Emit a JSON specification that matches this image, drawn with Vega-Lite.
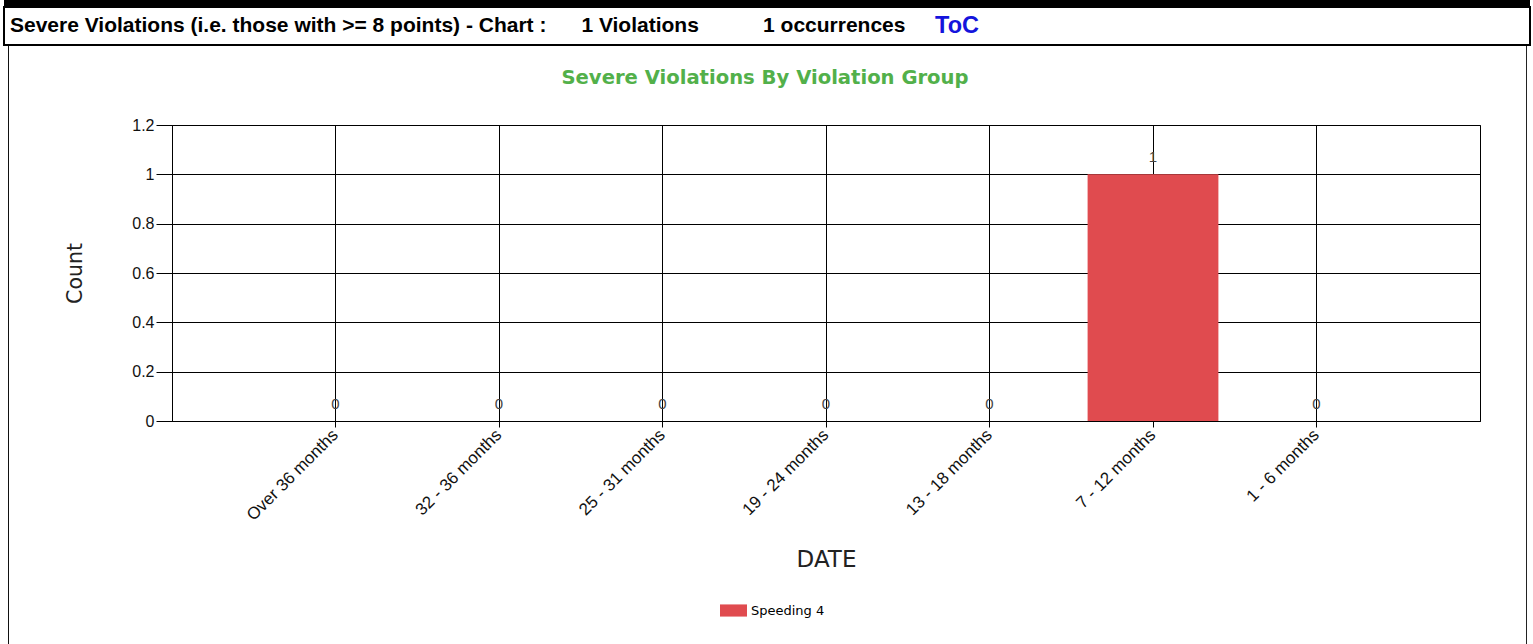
{
  "$schema": "https://vega.github.io/schema/vega-lite/v6.json",
  "background": "white",
  "padding": {"left": 3, "top": 0, "right": 0, "bottom": 0},
  "spacing": 0,
  "resolve": {"legend": {"color": "independent"}},
  "config": {"legend": {"layout": {"bottom": {"anchor": "middle"}}}},
  "vconcat": [
    {
      "width": 1526,
      "height": 6,
      "data": {"values": []},
      "mark": "rect",
      "view": {"stroke": null, "fill": "black"}
    },
    {
      "width": 1526,
      "height": 38,
      "view": {"stroke": "black", "strokeWidth": 2, "fill": "white"},
      "encoding": {
        "x": {
          "field": "part",
          "type": "nominal",
          "sort": null,
          "scale": {
            "type": "point",
            "domain": ["Severe Violations (i.e. those with >= 8 points) - Chart :\u00a0\u00a0\u00a0\u00a0\u00a0\u00a01 Violations\u00a0\u00a0\u00a0\u00a0\u00a0\u00a0\u00a0\u00a0\u00a0\u00a0\u00a01 occurrences", "ToC"],
            "padding": 0.3204,
            "align": 0
          },
          "axis": null
        },
        "text": {"field": "part"}
      },
      "layer": [
        {
          "data": {"values": [{"part": "Severe Violations (i.e. those with >= 8 points) - Chart :\u00a0\u00a0\u00a0\u00a0\u00a0\u00a01 Violations\u00a0\u00a0\u00a0\u00a0\u00a0\u00a0\u00a0\u00a0\u00a0\u00a0\u00a01 occurrences"}]},
          "mark": {"type": "text", "align": "left", "baseline": "middle", "dx": 6, "font": "Liberation Sans", "fontSize": 21, "fontWeight": "bold", "color": "black"}
        },
        {
          "data": {"values": [{"part": "ToC"}]},
          "mark": {"type": "text", "align": "left", "baseline": "middle", "dx": 1, "font": "Liberation Sans", "fontSize": 23.5, "fontWeight": "bold", "color": "#1414DC"}
        }
      ]
    },
    {
      "spacing": 3,
      "resolve": {"legend": {"color": "independent"}},
      "hconcat": [
        {
          "width": 1,
          "height": 1,
          "data": {"values": []},
          "mark": "rect",
          "view": {"stroke": null}
        },
        {
          "spacing": 56,
          "resolve": {"legend": {"color": "independent"}},
          "hconcat": [
            {
              "width": 1,
              "height": 620,
              "data": {"values": []},
              "mark": "rect",
              "view": {"stroke": null, "fill": "#111111"}
            },
            {
              "spacing": 45,
              "resolve": {"legend": {"color": "independent"}},
              "hconcat": [
                {
                  "spacing": 6,
                  "vconcat": [
                    {
                      "width": 1186,
                      "height": 64,
                      "view": {"stroke": null},
                      "data": {"values": [{"heading": "Severe Violations By Violation Group"}]},
                      "mark": {
                        "type": "text",
                        "align": "center",
                        "baseline": "middle",
                        "font": "DejaVu Sans",
                        "fontSize": 19.6,
                        "fontWeight": "bold",
                        "color": "#52B04A"
                      },
                      "encoding": {"text": {"field": "heading"}}
                    },
                    {
                      "width": 1308,
                      "height": 296,
                      "view": {"stroke": "black"},
                      "data": {
                        "values": [
                          {"group": "Over 36 months", "count": 0, "violation": "Speeding 4"},
                          {"group": "32 - 36 months", "count": 0, "violation": "Speeding 4"},
                          {"group": "25 - 31 months", "count": 0, "violation": "Speeding 4"},
                          {"group": "19 - 24 months", "count": 0, "violation": "Speeding 4"},
                          {"group": "13 - 18 months", "count": 0, "violation": "Speeding 4"},
                          {"group": "7 - 12 months", "count": 1, "violation": "Speeding 4"},
                          {"group": "1 - 6 months", "count": 0, "violation": "Speeding 4"}
                        ]
                      },
                      "encoding": {
                        "x": {
                          "field": "group",
                          "type": "nominal",
                          "sort": null,
                          "scale": {"paddingInner": 0.2, "paddingOuter": 0.6},
                          "axis": {
                            "title": "DATE",
                            "labelAngle": -45,
                            "labelAlign": "right",
                            "labelBaseline": "middle",
                            "bandPosition": 0.5,
                            "grid": true,
                            "gridColor": "black",
                            "gridOpacity": 1,
                            "tickSize": 6,
                            "tickColor": "black",
                            "domainColor": "black",
                            "labelFont": "Liberation Sans",
                            "labelFontSize": 17,
                            "labelColor": "#111111",
                            "labelPadding": 5,
                            "titleFont": "DejaVu Sans",
                            "titleFontSize": 23,
                            "titleFontWeight": "normal",
                            "titleColor": "#222222",
                            "titlePadding": 25
                          }
                        },
                        "y": {
                          "field": "count",
                          "type": "quantitative",
                          "scale": {"domain": [0, 1.2], "nice": false},
                          "axis": {
                            "title": "Count",
                            "values": [0, 0.2, 0.4, 0.6, 0.8, 1, 1.2],
                            "format": "~g",
                            "grid": true,
                            "gridColor": "black",
                            "gridOpacity": 1,
                            "tickSize": 16,
                            "tickColor": "black",
                            "domainColor": "black",
                            "labelPadding": 2,
                            "labelFont": "Liberation Sans",
                            "labelFontSize": 16,
                            "labelColor": "#111111",
                            "titleFont": "DejaVu Sans",
                            "titleFontSize": 20.5,
                            "titleFontWeight": "normal",
                            "titleColor": "#222222",
                            "titlePadding": 46
                          }
                        }
                      },
                      "layer": [
                        {
                          "mark": {"type": "bar"},
                          "encoding": {
                            "color": {
                              "field": "violation",
                              "type": "nominal",
                              "scale": {"range": ["#E04B4F"]},
                              "legend": {
                                "title": null,
                                "orient": "bottom",
                                "direction": "horizontal",
                                "symbolType": "M-1,-0.45L1,-0.45L1,0.45L-1,0.45Z",
                                "symbolSize": 729,
                                "symbolStrokeWidth": 0,
                                "labelFont": "DejaVu Sans",
                                "labelFontSize": 13,
                                "labelColor": "black",
                                "offset": 25
                              }
                            }
                          }
                        },
                        {
                          "mark": {"type": "text", "baseline": "bottom", "dy": -9, "font": "Liberation Sans", "fontSize": 15, "color": "#444444"},
                          "encoding": {
                            "text": {"field": "count", "type": "quantitative"}
                          }
                        }
                      ]
                    }
                  ]
                },
                {
                  "width": 1,
                  "height": 620,
                  "data": {"values": []},
                  "mark": "rect",
                  "view": {"stroke": null, "fill": "#222222"}
                }
              ]
            }
          ]
        }
      ]
    }
  ]
}
